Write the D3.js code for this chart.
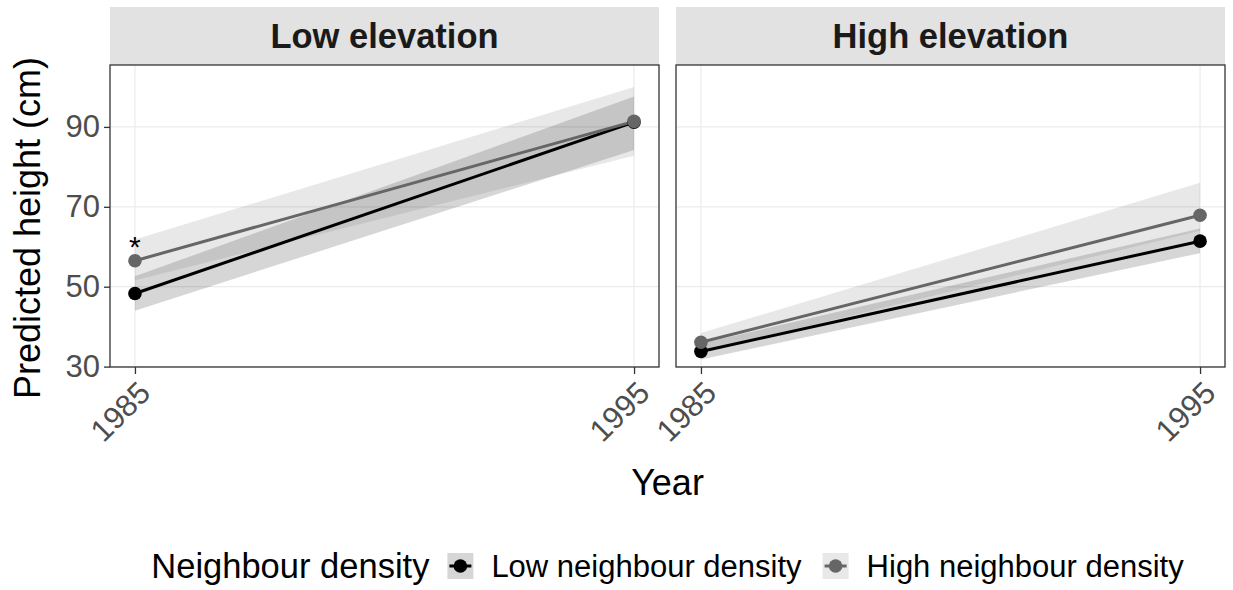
<!DOCTYPE html>
<html>
<head>
<meta charset="utf-8">
<script src="https://cdn.jsdelivr.net/npm/d3@7"></script>
<style>
  body { margin: 0; background: #fff; }
  text { font-family: "Liberation Sans", Arial, Helvetica, sans-serif; }
</style>
</head>
<body>
<svg id="chart" width="1233" height="590"></svg>
<script>
// ---- data ----
const years = [1985, 1995];
const elevations = ["Low elevation", "High elevation"];
const densities = ["Low neighbour density", "High neighbour density"];
const yTicks = [30, 50, 70, 90];
const legendTitle = "Neighbour density";
const xTitle = "Year";
const yTitle = "Predicted height (cm)";

// predicted height and interval bounds (cm), one value per year
const lowElevLowDensFit   = [48.3, 91.2];
const lowElevLowDensLower = [44.0, 84.2];
const lowElevLowDensUpper = [52.6, 97.6];
const lowElevHighDensFit   = [56.5, 91.4];
const lowElevHighDensLower = [51.6, 82.8];
const lowElevHighDensUpper = [61.8, 100.0];
const highElevLowDensFit   = [33.8, 61.4];
const highElevLowDensLower = [31.8, 58.4];
const highElevLowDensUpper = [35.8, 64.6];
const highElevHighDensFit   = [36.1, 67.9];
const highElevHighDensLower = [33.6, 64.0];
const highElevHighDensUpper = [38.4, 76.0];

// significance marks: elevation, year, density the mark sits above
const marks = [{ elevation: "Low elevation", year: 1985, density: "High neighbour density", label: "*" }];

const seriesTable = [
  { elevation: elevations[0], density: densities[0], fit: lowElevLowDensFit,  lower: lowElevLowDensLower,  upper: lowElevLowDensUpper },
  { elevation: elevations[0], density: densities[1], fit: lowElevHighDensFit, lower: lowElevHighDensLower, upper: lowElevHighDensUpper },
  { elevation: elevations[1], density: densities[0], fit: highElevLowDensFit,  lower: highElevLowDensLower,  upper: highElevLowDensUpper },
  { elevation: elevations[1], density: densities[1], fit: highElevHighDensFit, lower: highElevHighDensLower, upper: highElevHighDensUpper }
].map(s => ({ ...s, points: years.map((yr, i) => ({ year: yr, fit: s.fit[i], lower: s.lower[i], upper: s.upper[i] })) }));

// ---- styles ----
const lineColor = d3.scaleOrdinal().domain(densities).range(["#000000", "#666666"]);
const ribbonFill = d3.scaleOrdinal().domain(densities).range(["#000000", "#666666"]);
const ribbonOpacity = d3.scaleOrdinal().domain(densities).range([0.16, 0.15]);

// ---- layout ----
const svg = d3.select("#chart");
const panelTop = 65, panelBottom = 367, stripTop = 7;
const panels = [
  { name: elevations[0], x0: 110, x1: 659 },
  { name: elevations[1], x0: 676, x1: 1225 }
];

const y = d3.scaleLinear().domain([29.9, 105.5]).range([panelBottom, panelTop]);

panels.forEach((p, pi) => {
  const x = d3.scaleLinear().domain([1984.5, 1995.5]).range([p.x0, p.x1]);
  const g = svg.append("g");

  // strip
  g.append("rect").attr("x", p.x0).attr("y", stripTop)
    .attr("width", p.x1 - p.x0).attr("height", panelTop - stripTop)
    .attr("fill", "#e2e2e2");
  g.append("text").attr("x", (p.x0 + p.x1) / 2).attr("y", (stripTop + panelTop) / 2)
    .attr("dy", "0.36em").attr("text-anchor", "middle")
    .attr("font-size", 34.5).attr("font-weight", "bold").attr("fill", "#1a1a1a")
    .text(p.name);

  // grid
  g.append("g").selectAll("line").data(yTicks).join("line")
    .attr("x1", p.x0).attr("x2", p.x1).attr("y1", d => y(d)).attr("y2", d => y(d))
    .attr("stroke", "#ebebeb").attr("stroke-width", 1.2);
  g.append("g").selectAll("line").data(years).join("line")
    .attr("x1", d => x(d)).attr("x2", d => x(d)).attr("y1", panelTop).attr("y2", panelBottom)
    .attr("stroke", "#ebebeb").attr("stroke-width", 1.2);

  const data = seriesTable.filter(s => s.elevation === p.name);

  // intervals
  const area = d3.area().x(d => x(d.year)).y0(d => y(d.lower)).y1(d => y(d.upper));
  g.append("g").selectAll("path").data(data).join("path")
    .attr("d", d => area(d.points))
    .attr("fill", d => ribbonFill(d.density))
    .attr("fill-opacity", d => ribbonOpacity(d.density));

  // lines
  const line = d3.line().x(d => x(d.year)).y(d => y(d.fit));
  g.append("g").selectAll("path").data(data).join("path")
    .attr("d", d => line(d.points))
    .attr("fill", "none").attr("stroke", d => lineColor(d.density)).attr("stroke-width", 3);

  // points
  data.forEach(s => {
    g.append("g").selectAll("circle").data(s.points).join("circle")
      .attr("cx", d => x(d.year)).attr("cy", d => y(d.fit)).attr("r", 6.8)
      .attr("fill", lineColor(s.density));
  });

  // significance marks
  marks.filter(m => m.elevation === p.name).forEach(m => {
    const s = data.find(d => d.density === m.density);
    const i = years.indexOf(m.year);
    g.append("text").attr("x", x(m.year)).attr("y", y(s.fit[i]) - 4)
      .attr("text-anchor", "middle").attr("font-size", 30).attr("fill", "#000")
      .text(m.label);
  });

  // panel border
  g.append("rect").attr("x", p.x0).attr("y", panelTop)
    .attr("width", p.x1 - p.x0).attr("height", panelBottom - panelTop)
    .attr("fill", "none").attr("stroke", "#333333").attr("stroke-width", 1.3);

  // x axis
  const xAxis = g.append("g").attr("transform", `translate(0,${panelBottom})`)
    .call(d3.axisBottom(x).tickValues(years).tickSize(7).tickFormat(d3.format("d")));
  xAxis.select(".domain").remove();
  xAxis.selectAll(".tick line").attr("stroke", "#333333").attr("stroke-width", 1.3);
  xAxis.selectAll(".tick text")
    .attr("font-size", 31).attr("fill", "#4d4d4d")
    .attr("text-anchor", "end").attr("dy", "0.72em").attr("y", 0)
    .attr("transform", "translate(1,12) rotate(-45)");

  // y axis on first panel only
  if (pi === 0) {
    const yAxis = g.append("g").attr("transform", `translate(${p.x0},0)`)
      .call(d3.axisLeft(y).tickValues(yTicks).tickSize(6).tickPadding(4));
    yAxis.select(".domain").remove();
    yAxis.selectAll(".tick line").attr("stroke", "#333333").attr("stroke-width", 1.3);
    yAxis.selectAll(".tick text").attr("font-size", 31).attr("fill", "#4d4d4d");
  }
});

// axis titles
svg.append("text").attr("x", (panels[0].x0 + panels[1].x1) / 2).attr("y", 495)
  .attr("text-anchor", "middle").attr("font-size", 36).attr("fill", "#000").text(xTitle);
svg.append("text").attr("transform", `translate(40,228) rotate(-90)`)
  .attr("text-anchor", "middle").attr("font-size", 36).attr("fill", "#000").text(yTitle);

// ---- legend ----
const legendY = 566;
const legend = svg.append("g");
const titleText = legend.append("text").attr("x", 0).attr("y", legendY).attr("dy", "0.35em")
  .attr("font-size", 34.5).attr("fill", "#000").text(legendTitle);
let cursor = titleText.node().getComputedTextLength() + 18;
const keySize = 26;
densities.forEach(dens => {
  const k = legend.append("g").attr("transform", `translate(${cursor},${legendY - keySize / 2})`);
  k.append("rect").attr("width", keySize).attr("height", keySize).attr("fill", "#fff");
  k.append("rect").attr("width", keySize).attr("height", keySize)
    .attr("fill", ribbonFill(dens)).attr("fill-opacity", ribbonOpacity(dens));
  k.append("line").attr("x1", 2).attr("x2", keySize - 2).attr("y1", keySize / 2).attr("y2", keySize / 2)
    .attr("stroke", lineColor(dens)).attr("stroke-width", 3);
  k.append("circle").attr("cx", keySize / 2).attr("cy", keySize / 2).attr("r", 6.8).attr("fill", lineColor(dens));
  const t = legend.append("text").attr("x", cursor + keySize + 18).attr("y", legendY).attr("dy", "0.35em")
    .attr("font-size", 31).attr("fill", "#000").text(dens);
  cursor += keySize + 18 + t.node().getComputedTextLength() + 21;
});
const legendWidth = cursor - 21;
const legendCenter = (panels[0].x0 + panels[1].x1) / 2;
legend.attr("transform", `translate(${legendCenter - legendWidth / 2},0)`);
</script>
</body>
</html>
